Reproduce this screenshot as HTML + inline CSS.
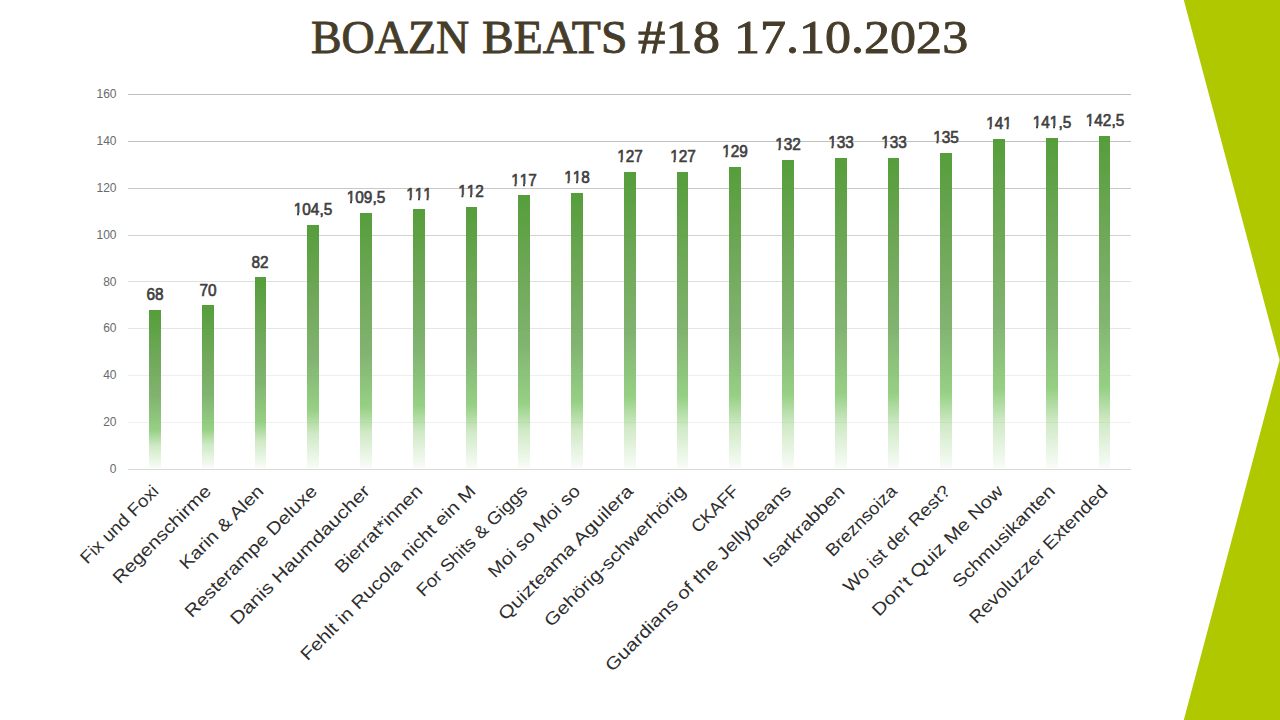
<!DOCTYPE html>
<html><head><meta charset="utf-8"><style>
*{margin:0;padding:0;box-sizing:border-box}
html,body{width:1280px;height:720px;overflow:hidden;background:#fff}
body{position:relative;font-family:"Liberation Sans",sans-serif}
.t{position:absolute;white-space:nowrap}
.ti{font-family:"Liberation Serif",serif;color:#463c2a;line-height:1}
.yl{position:absolute;color:#6a6a6a;text-align:right;width:40px;line-height:1}
.g{position:absolute;height:1px;background:#d9d9d9}
.bar{position:absolute;background:linear-gradient(to bottom,rgba(80,154,52,.97) 0%,rgba(104,164,80,.95) 30%,rgba(120,174,102,.93) 55%,rgba(141,204,122,.92) 76%,rgba(160,212,140,.5) 86%,rgba(200,232,190,.12) 100%)}
.dl{position:absolute;color:#3f3f3f;font-weight:normal;-webkit-text-stroke:0.65px #3f3f3f;text-align:center;width:60px;line-height:1}
.one{display:inline-block;clip-path:polygon(-2px -3px,12px -3px,12px 10.9px,5.4px 10.9px,5.4px 17px,3.4px 17px,3.4px 10.9px,-2px 10.9px)}
.cl{position:absolute;color:#2e2e2e;line-height:1;white-space:nowrap}
</style></head><body>
<svg class="t" style="left:0;top:0" width="1280" height="720"><polygon points="1183.8,0 1280,0 1280,720 1183.8,720 1279.6,360" fill="#afc800"/></svg>
<div class="t ti" style="left:310.5px;top:15.2px;font-size:46.5px;transform-origin:0 0;transform:scaleX(0.987);-webkit-text-stroke:0.9px #463c2a">BOAZN</div>
<div class="t ti" style="left:481.6px;top:15.2px;font-size:46.5px;transform-origin:0 0;transform:scaleX(1.023);-webkit-text-stroke:0.9px #463c2a">BEATS</div>
<div class="t ti" style="left:638.3px;top:15.2px;font-size:46.5px;transform-origin:0 0;transform:scaleX(1.175);-webkit-text-stroke:0.9px #463c2a">#18</div>
<div class="t ti" style="left:734.1px;top:15.2px;font-size:46.5px;transform-origin:0 0;transform:scaleX(1.119);-webkit-text-stroke:0.9px #463c2a">17.10.2023</div>
<div class="g" style="left:128px;width:1003px;top:469px;background:#d9d9d9"></div>
<div class="yl" style="left:76.5px;top:463.10px;font-size:12px">0</div>
<div class="g" style="left:128px;width:1003px;top:422px;background:#f0f0f0"></div>
<div class="yl" style="left:76.5px;top:416.23px;font-size:12px">20</div>
<div class="g" style="left:128px;width:1003px;top:375px;background:#eeeeee"></div>
<div class="yl" style="left:76.5px;top:369.35px;font-size:12px">40</div>
<div class="g" style="left:128px;width:1003px;top:328px;background:#e6e6e6"></div>
<div class="yl" style="left:76.5px;top:322.48px;font-size:12px">60</div>
<div class="g" style="left:128px;width:1003px;top:281px;background:#dfdfdf"></div>
<div class="yl" style="left:76.5px;top:275.60px;font-size:12px">80</div>
<div class="g" style="left:128px;width:1003px;top:235px;background:#d2d2d2"></div>
<div class="yl" style="left:76.5px;top:228.72px;font-size:12px">100</div>
<div class="g" style="left:128px;width:1003px;top:188px;background:#c8c8c8"></div>
<div class="yl" style="left:76.5px;top:181.85px;font-size:12px">120</div>
<div class="g" style="left:128px;width:1003px;top:141px;background:#c0c0c0"></div>
<div class="yl" style="left:76.5px;top:134.97px;font-size:12px">140</div>
<div class="g" style="left:128px;width:1003px;top:94px;background:#bebebe"></div>
<div class="yl" style="left:76.5px;top:88.10px;font-size:12px">160</div>
<div class="bar" style="left:149.18px;width:11.6px;top:310.12px;height:158.18px"></div>
<div class="dl" style="left:124.98px;top:287px;font-size:16px;transform:scaleX(0.96)">68</div>
<div class="cl" style="right:1119.72px;top:478.19px;font-size:17.5px;transform-origin:100% 84.65%;transform:rotate(-45deg) scaleX(1.0753)">Fix und Foxi</div>
<div class="bar" style="left:201.93px;width:11.6px;top:305.44px;height:162.86px"></div>
<div class="dl" style="left:177.73px;top:283px;font-size:16px;transform:scaleX(0.96)">70</div>
<div class="cl" style="right:1066.97px;top:478.19px;font-size:17.5px;transform-origin:100% 84.65%;transform:rotate(-45deg) scaleX(1.1599)">Regenschirme</div>
<div class="bar" style="left:254.68px;width:11.6px;top:277.31px;height:190.99px"></div>
<div class="dl" style="left:230.48px;top:255px;font-size:16px;transform:scaleX(0.96)">82</div>
<div class="cl" style="right:1014.22px;top:478.19px;font-size:17.5px;transform-origin:100% 84.65%;transform:rotate(-45deg) scaleX(1.1482)">Karin &amp; Alen</div>
<div class="bar" style="left:307.43px;width:11.6px;top:224.58px;height:243.72px"></div>
<div class="dl" style="left:283.23px;top:202px;font-size:16px;transform:scaleX(0.96)"><span class="one">1</span>04,5</div>
<div class="cl" style="right:961.47px;top:478.19px;font-size:17.5px;transform-origin:100% 84.65%;transform:rotate(-45deg) scaleX(1.1546)">Resterampe Deluxe</div>
<div class="bar" style="left:360.19px;width:11.6px;top:212.86px;height:255.44px"></div>
<div class="dl" style="left:335.99px;top:190px;font-size:16px;transform:scaleX(0.96)"><span class="one">1</span>09,5</div>
<div class="cl" style="right:908.71px;top:478.19px;font-size:17.5px;transform-origin:100% 84.65%;transform:rotate(-45deg) scaleX(1.1846)">Danis Haumdaucher</div>
<div class="bar" style="left:412.94px;width:11.6px;top:209.34px;height:258.96px"></div>
<div class="dl" style="left:388.74px;top:187px;font-size:16px;transform:scaleX(0.96)"><span class="one">1</span><span class="one">1</span><span class="one">1</span></div>
<div class="cl" style="right:855.96px;top:478.19px;font-size:17.5px;transform-origin:100% 84.65%;transform:rotate(-45deg) scaleX(1.1448)">Bierrat*innen</div>
<div class="bar" style="left:465.69px;width:11.6px;top:207.00px;height:261.30px"></div>
<div class="dl" style="left:441.49px;top:184px;font-size:16px;transform:scaleX(0.96)"><span class="one">1</span><span class="one">1</span>2</div>
<div class="cl" style="right:803.21px;top:478.19px;font-size:17.5px;transform-origin:100% 84.65%;transform:rotate(-45deg) scaleX(1.1608)">Fehlt in Rucola nicht ein M</div>
<div class="bar" style="left:518.44px;width:11.6px;top:195.28px;height:273.02px"></div>
<div class="dl" style="left:494.24px;top:173px;font-size:16px;transform:scaleX(0.96)"><span class="one">1</span><span class="one">1</span>7</div>
<div class="cl" style="right:750.46px;top:478.19px;font-size:17.5px;transform-origin:100% 84.65%;transform:rotate(-45deg) scaleX(1.0847)">For Shits &amp; Giggs</div>
<div class="bar" style="left:571.20px;width:11.6px;top:192.94px;height:275.36px"></div>
<div class="dl" style="left:547.00px;top:170px;font-size:16px;transform:scaleX(0.96)"><span class="one">1</span><span class="one">1</span>8</div>
<div class="cl" style="right:697.70px;top:478.19px;font-size:17.5px;transform-origin:100% 84.65%;transform:rotate(-45deg) scaleX(1.1320)">Moi so Moi so</div>
<div class="bar" style="left:623.95px;width:11.6px;top:171.84px;height:296.46px"></div>
<div class="dl" style="left:599.75px;top:149px;font-size:16px;transform:scaleX(0.96)"><span class="one">1</span>27</div>
<div class="cl" style="right:644.95px;top:478.19px;font-size:17.5px;transform-origin:100% 84.65%;transform:rotate(-45deg) scaleX(1.1941)">Quizteama Aguilera</div>
<div class="bar" style="left:676.70px;width:11.6px;top:171.84px;height:296.46px"></div>
<div class="dl" style="left:652.50px;top:149px;font-size:16px;transform:scaleX(0.96)"><span class="one">1</span>27</div>
<div class="cl" style="right:592.20px;top:478.19px;font-size:17.5px;transform-origin:100% 84.65%;transform:rotate(-45deg) scaleX(1.1798)">Gehörig-schwerhörig</div>
<div class="bar" style="left:729.46px;width:11.6px;top:167.16px;height:301.14px"></div>
<div class="dl" style="left:705.26px;top:144px;font-size:16px;transform:scaleX(0.96)"><span class="one">1</span>29</div>
<div class="cl" style="right:539.44px;top:478.19px;font-size:17.5px;transform-origin:100% 84.65%;transform:rotate(-45deg) scaleX(1.0260)">CKAFF</div>
<div class="bar" style="left:782.21px;width:11.6px;top:160.12px;height:308.18px"></div>
<div class="dl" style="left:758.01px;top:137px;font-size:16px;transform:scaleX(0.96)"><span class="one">1</span>32</div>
<div class="cl" style="right:486.69px;top:478.19px;font-size:17.5px;transform-origin:100% 84.65%;transform:rotate(-45deg) scaleX(1.1745)">Guardians of the Jellybeans</div>
<div class="bar" style="left:834.96px;width:11.6px;top:157.78px;height:310.52px"></div>
<div class="dl" style="left:810.76px;top:135px;font-size:16px;transform:scaleX(0.96)"><span class="one">1</span>33</div>
<div class="cl" style="right:433.94px;top:478.19px;font-size:17.5px;transform-origin:100% 84.65%;transform:rotate(-45deg) scaleX(1.1613)">Isarkrabben</div>
<div class="bar" style="left:887.71px;width:11.6px;top:157.78px;height:310.52px"></div>
<div class="dl" style="left:863.51px;top:135px;font-size:16px;transform:scaleX(0.96)"><span class="one">1</span>33</div>
<div class="cl" style="right:381.19px;top:478.19px;font-size:17.5px;transform-origin:100% 84.65%;transform:rotate(-45deg) scaleX(1.0657)">Breznsoiza</div>
<div class="bar" style="left:940.47px;width:11.6px;top:153.09px;height:315.21px"></div>
<div class="dl" style="left:916.27px;top:130px;font-size:16px;transform:scaleX(0.96)"><span class="one">1</span>35</div>
<div class="cl" style="right:328.43px;top:478.19px;font-size:17.5px;transform-origin:100% 84.65%;transform:rotate(-45deg) scaleX(1.1095)">Wo ist der Rest?</div>
<div class="bar" style="left:993.22px;width:11.6px;top:139.03px;height:329.27px"></div>
<div class="dl" style="left:969.02px;top:116px;font-size:16px;transform:scaleX(0.96)"><span class="one">1</span>4<span class="one">1</span></div>
<div class="cl" style="right:275.68px;top:478.19px;font-size:17.5px;transform-origin:100% 84.65%;transform:rotate(-45deg) scaleX(1.1735)">Don’t Quiz Me Now</div>
<div class="bar" style="left:1045.97px;width:11.6px;top:137.86px;height:330.44px"></div>
<div class="dl" style="left:1021.77px;top:115px;font-size:16px;transform:scaleX(0.96)"><span class="one">1</span>4<span class="one">1</span>,5</div>
<div class="cl" style="right:222.93px;top:478.19px;font-size:17.5px;transform-origin:100% 84.65%;transform:rotate(-45deg) scaleX(1.1418)">Schmusikanten</div>
<div class="bar" style="left:1098.72px;width:11.6px;top:135.52px;height:332.78px"></div>
<div class="dl" style="left:1074.52px;top:113px;font-size:16px;transform:scaleX(0.96)"><span class="one">1</span>42,5</div>
<div class="cl" style="right:170.18px;top:478.19px;font-size:17.5px;transform-origin:100% 84.65%;transform:rotate(-45deg) scaleX(1.1263)">Revoluzzer Extended</div>
</body></html>
